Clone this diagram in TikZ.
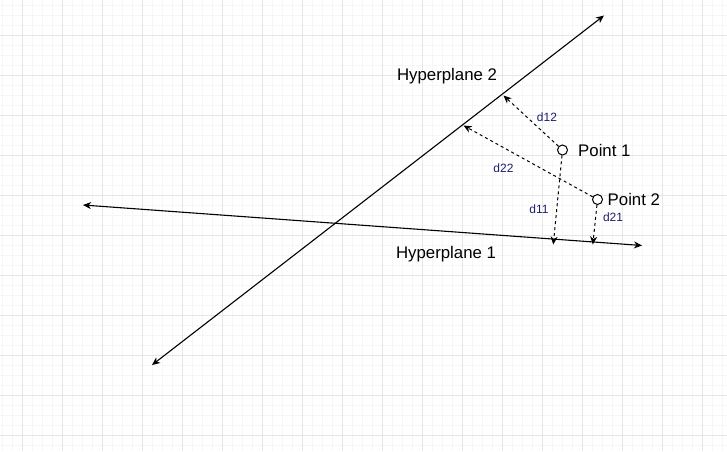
\documentclass[tikz,border=0pt]{standalone}
\usepackage{fontspec}
\setmainfont{Liberation Sans}
\usetikzlibrary{arrows.meta}
\definecolor{gridminor}{RGB}{246,246,246}
\definecolor{gridmajor}{RGB}{230,230,230}
\definecolor{dlabel}{RGB}{30,30,110}
\tikzset{
  minorgrid/.style={draw=gridminor,line width=1pt},
  majorgrid/.style={draw=gridmajor,line width=1pt},
  hyper/.style={draw=black,line width=1.1pt,{Stealth[length=8pt,width=7pt,inset=2.5pt]}-{Stealth[length=8pt,width=7pt,inset=2.5pt]}},
  dist/.style={draw=black,line width=1pt,dash pattern=on 3pt off 3pt,-{Stealth[length=8pt,width=7pt,inset=2.5pt]}},
  pt/.style={circle,draw=black,fill=white,line width=1pt,minimum size=10pt,inner sep=0pt},
  biglabel/.style={font=\fontsize{16.8}{19}\selectfont,inner sep=0pt,text=black},
  dlab/.style={font=\fontsize{12}{14}\selectfont,inner sep=0pt,text=dlabel}
}
\begin{document}
\begin{tikzpicture}[x=1pt,y=-1pt]
\useasboundingbox (0,0) rectangle (727,451);
\fill[white] (0,0) rectangle (727,451);
% grid
\foreach \i in {0,...,72} \draw[minorgrid] ({2.3+10*\i},0) -- ({2.3+10*\i},451);
\foreach \j in {0,...,44} \draw[minorgrid] (0,{5.7+10*\j}) -- (727,{5.7+10*\j});
\foreach \i in {0,...,17} \draw[majorgrid] ({22.3+40*\i},0) -- ({22.3+40*\i},451);
\foreach \j in {0,...,10} \draw[majorgrid] (0,{35.7+40*\j}) -- (727,{35.7+40*\j});
% hyperplanes
\coordinate (h1a) at (83,205);
\coordinate (h1b) at (642,245.5);
\coordinate (h2a) at (152,365);
\coordinate (h2b) at (604,15.5);
\draw[hyper] (h1a) -- (h1b);
\draw[hyper] (h2a) -- (h2b);
% labels
\node[biglabel] (lh2) at (447,76) {Hyperplane 2};
\node[biglabel] (lh1) at (446,254) {Hyperplane 1};
% points
\node[pt] (p1) at (562.5,150) {};
\node[pt] (p2) at (597.5,199.5) {};
\node[biglabel,anchor=west] (lp1) at (578,150) {Point 1};
\node[biglabel,anchor=west] (lp2) at (607.5,199.5) {Point 2};
% foot points
\coordinate (f12) at (503.5,95.5);
\coordinate (f22) at (463.5,125.5);
\coordinate (f11) at (553.3,244.5);
\coordinate (f21) at (592.8,244.5);
\draw[dist] (p1) -- (f12);
\draw[dist] (p1) -- (f11);
\draw[dist] (p2) -- (f22);
\draw[dist] (p2) -- (f21);
% distance labels
\node[dlab] (d12) at (547,117) {d12};
\node[dlab] (d22) at (503.5,168) {d22};
\node[dlab] (d11) at (539,209.5) {d11};
\node[dlab] (d21) at (613,217) {d21};
\end{tikzpicture}
\end{document}
